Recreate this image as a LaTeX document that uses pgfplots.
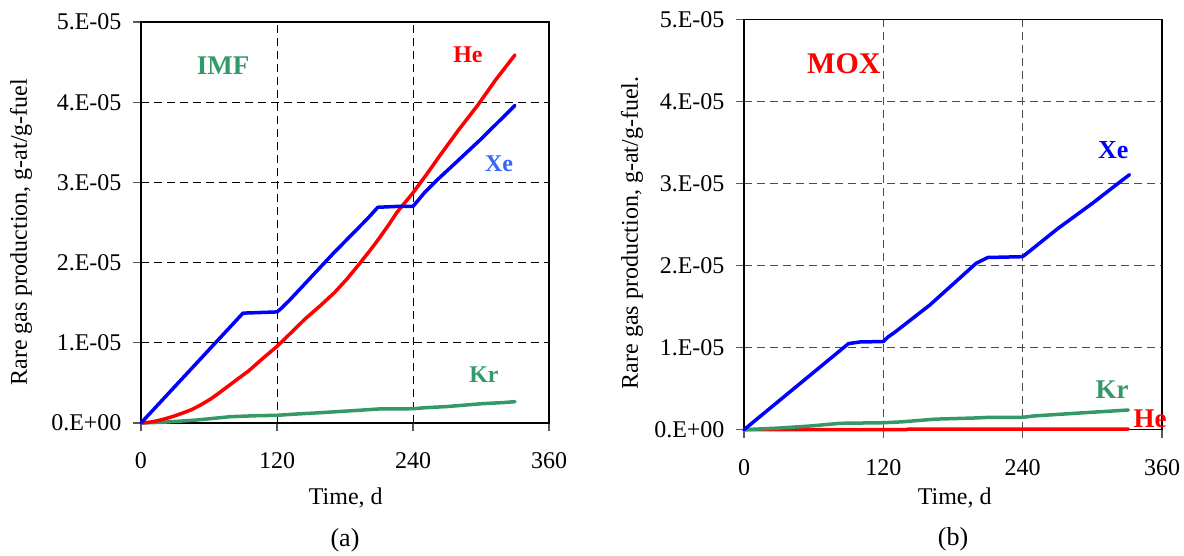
\documentclass[border=0pt]{standalone}
\usepackage{pgfplots}
\pgfplotsset{compat=1.18}
\usepackage{fontspec}
\setmainfont{Liberation Serif}
\definecolor{xblue}{RGB}{0,0,255}
\definecolor{xred}{RGB}{255,0,0}
\definecolor{xgreen}{RGB}{51,153,102}
\definecolor{lblue}{RGB}{51,102,255}
\begin{document}
\begin{tikzpicture}
\useasboundingbox (0pt,0pt) rectangle (1184pt,555pt);
\pgfplotsset{
  myaxis/.style={
    scale only axis, clip=false,
    xmin=0, xmax=360, ymin=0, ymax=5e-5,
    xtick={0,120,240,360}, xticklabels={0,120,240,360},
    ytick={0,1e-5,2e-5,3e-5,4e-5,5e-5},
    yticklabels={0.E+00,1.E-05,2.E-05,3.E-05,4.E-05,5.E-05},
    scaled y ticks=false,
    xtick pos=left, ytick pos=left,
    tick align=outside, major tick length=8pt,
    tick style={black!65, line width=1.3pt},
    axis line style={black, line width=1.3pt},
    ymajorgrids, xmajorgrids,
    ticklabel style={font=\fontsize{24}{28}\selectfont},
    label style={font=\fontsize{24}{28}\selectfont},
    xticklabel style={yshift=-18pt},
    yticklabel style={xshift=-8pt},
    xlabel={Time, d},
    every axis plot/.append style={line width=3.5pt, line join=round, line cap=round},
  }
}
% ---------------- (a) IMF ----------------
\begin{axis}[myaxis,
  at={(141pt,132pt)}, anchor=south west, width=408pt, height=401pt,
  major grid style={black, line width=1pt, dash pattern=on 8pt off 5pt},
  ylabel={Rare gas production, g-at/g-fuel},
  ylabel style={at={(axis description cs:-0.294,0.476)}, anchor=center},
  xlabel style={at={(axis description cs:0.502,-0.187)}, anchor=center},
]
\addplot[xgreen] coordinates {
(0,0) (20,0.01e-5) (49,0.037e-5) (79,0.079e-5) (100,0.09e-5) (120,0.096e-5)
(135,0.11e-5) (160,0.13e-5) (196,0.162e-5) (210,0.175e-5) (240,0.178e-5)
(250,0.19e-5) (270,0.205e-5) (300,0.24e-5) (320,0.255e-5) (330,0.266e-5)};
\addplot[xred] coordinates {
(0,0) (8,0.01e-5) (15,0.03e-5) (22,0.055e-5) (30,0.09e-5) (37,0.125e-5) (44,0.163e-5)
(52,0.22e-5) (61,0.295e-5) (68,0.365e-5) (76,0.45e-5) (85,0.545e-5)
(95,0.65e-5) (107,0.8e-5) (120,0.955e-5) (132,1.12e-5) (145,1.3e-5) (158,1.46e-5)
(171,1.63e-5) (182,1.8e-5) (193,1.99e-5) (202,2.15e-5)
(210,2.30e-5) (218,2.46e-5) (226,2.63e-5) (240,2.87e-5) (252,3.1e-5) (264,3.34e-5)
(280,3.65e-5) (297,3.96e-5) (313,4.28e-5) (330,4.59e-5)};
\addplot[xblue] coordinates {
(0,0) (90,1.37e-5) (100,1.375e-5) (120,1.385e-5) (123,1.42e-5) (131,1.53e-5)
(170,2.12e-5) (200,2.55e-5) (209,2.69e-5) (225,2.70e-5) (240,2.70e-5)
(250,2.87e-5) (262,3.04e-5) (275,3.21e-5) (300,3.54e-5) (315,3.75e-5) (330,3.96e-5)};
\node[xgreen, font=\fontsize{27}{30}\selectfont\bfseries] at (axis cs:72.4,4.45e-5) {IMF};
\node[xred, font=\fontsize{24}{28}\selectfont\bfseries] at (axis cs:288.5,4.59e-5) {He};
\node[lblue, font=\fontsize{24}{28}\selectfont\bfseries] at (axis cs:316,3.23e-5) {Xe};
\node[xgreen, font=\fontsize{24}{28}\selectfont\bfseries] at (axis cs:302.6,0.60e-5) {Kr};
\node[font=\fontsize{26}{30}\selectfont] at (axis description cs:0.5,-0.293) {(a)};
\end{axis}
% ---------------- (b) MOX ----------------
\begin{axis}[myaxis,
  at={(744pt,125.3pt)}, anchor=south west, width=418pt, height=410pt,
  major grid style={black!70, line width=1pt, dash pattern=on 8pt off 5pt},
  ylabel={Rare gas production, g-at/g-fuel.},
  ylabel style={at={(axis description cs:-0.268,0.48)}, anchor=center},
  xlabel style={at={(axis description cs:0.504,-0.167)}, anchor=center},
]
\addplot[xred] coordinates {
(0,0) (140,0.002e-5) (141,0.006e-5) (331,0.008e-5)};
\addplot[xgreen] coordinates {
(0,0) (30,0.02e-5) (55,0.043e-5) (83,0.078e-5) (120,0.085e-5) (135,0.095e-5)
(165,0.129e-5) (197,0.142e-5) (210,0.15e-5) (240,0.151e-5) (250,0.168e-5)
(293,0.207e-5) (331,0.24e-5)};
\addplot[xblue] coordinates {
(0,0) (90,1.05e-5) (100,1.07e-5) (120,1.075e-5) (124,1.13e-5) (130,1.19e-5)
(160,1.52e-5) (200,2.03e-5) (210,2.10e-5) (240,2.11e-5) (248,2.2e-5)
(270,2.45e-5) (300,2.76e-5) (320,2.98e-5) (332,3.11e-5)};
\node[xred, font=\fontsize{30}{34}\selectfont\bfseries] at (axis cs:86,4.46e-5) {MOX};
\node[xblue, font=\fontsize{26}{30}\selectfont\bfseries] at (axis cs:318,3.41e-5) {Xe};
\node[xgreen, font=\fontsize{27}{30}\selectfont\bfseries] at (axis cs:317,0.49e-5) {Kr};
\node[xred, font=\fontsize{27}{30}\selectfont\bfseries] at (axis cs:349.7,0.13e-5) {He};
\node[font=\fontsize{26}{30}\selectfont] at (axis description cs:0.5,-0.267) {(b)};
\end{axis}
\end{tikzpicture}
\end{document}
